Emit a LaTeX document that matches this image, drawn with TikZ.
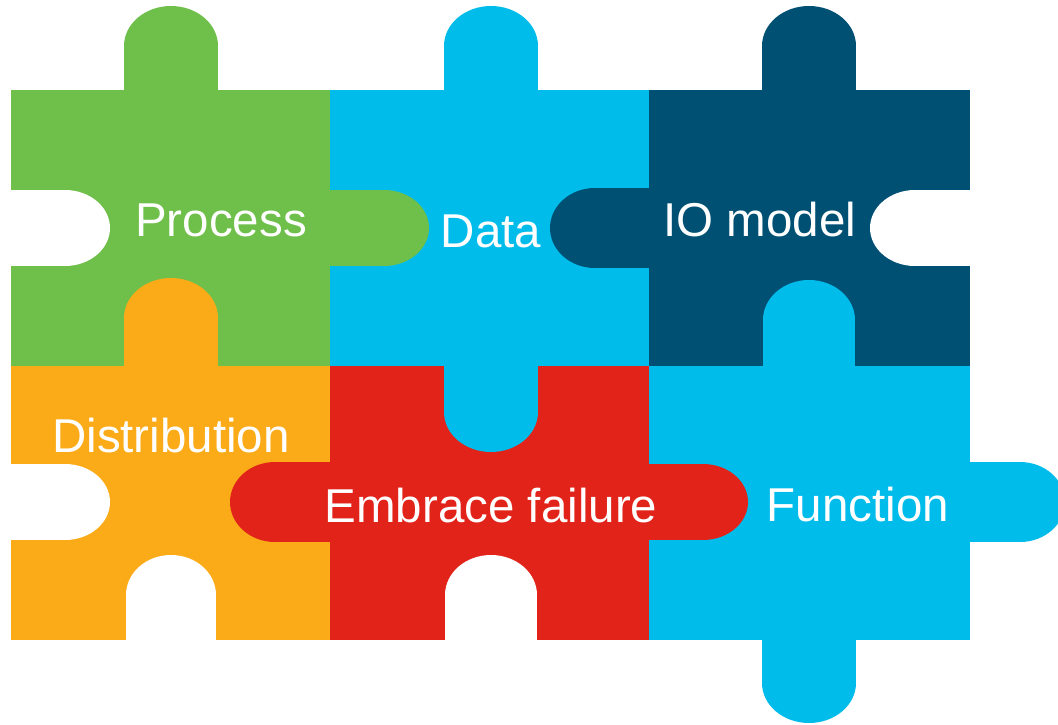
\documentclass[tikz,border=0pt]{standalone}
\usepackage{fontspec}
\setmainfont{Liberation Sans}
\definecolor{cgreen}{HTML}{6FBF4B}
\definecolor{ccyan}{HTML}{00BCEB}
\definecolor{cnavy}{HTML}{005073}
\definecolor{corange}{HTML}{FBAB18}
\definecolor{cred}{HTML}{E2231A}
% vertical tab: colour, centre x, base y, cap centre y, half width
\newcommand{\vtab}[5]{%
  \fill[#1] ({#2-#5},#3) rectangle ({#2+#5},#4);
  \fill[#1] (#2,#4) ellipse [x radius=#5pt, y radius=40pt];}
% horizontal tab: colour, centre y, base x, cap centre x, half height
\newcommand{\htab}[5]{%
  \fill[#1] (#3,{#2-#5}) rectangle (#4,{#2+#5});
  \fill[#1] (#4,#2) ellipse [x radius=45pt, y radius=#5pt];}
\tikzset{
  lbl/.style={text=white, anchor=base, inner sep=0pt, font=\fontsize{47.5}{56}\selectfont},
  hole/.style={fill=white}
}
\begin{document}
\begin{tikzpicture}[x=1pt,y=-1pt]
\useasboundingbox (0,0) rectangle (1058,725);
\fill[white] (0,0) rectangle (1058,725);
\clip (0,0) rectangle (1058,725);
% bodies
\fill[cgreen]  (11,90)   rectangle (330,366);
\fill[ccyan]   (330,90)  rectangle (649,366);
\fill[cnavy]   (649,90)  rectangle (970,366);
\fill[corange] (11,366)  rectangle (330,640);
\fill[cred]    (330,366) rectangle (649,640);
\fill[ccyan]   (649,366) rectangle (970,640);
% vertical tabs
\vtab{cgreen}{171}{92}{46}{47}
\vtab{ccyan}{491}{92}{46}{47}
\vtab{cnavy}{809}{92}{46}{47}
\vtab{corange}{171}{368}{318}{47}
\vtab{ccyan}{809}{368}{320}{46}
\vtab{ccyan}{491}{364}{412}{47}
\vtab{ccyan}{809}{638}{683}{47}
% horizontal tabs
\htab{cgreen}{228}{328}{384}{38}
\htab{cnavy}{228}{651}{595}{40}
\htab{cred}{502}{332}{275}{40}
\htab{cred}{502}{647}{703}{38}
\htab{ccyan}{502}{968}{1020}{40}
% white notches
\vtab{hole}{171}{645}{595}{45}
\vtab{hole}{491}{645}{595}{46}
\htab{hole}{228}{975}{915}{38}
\htab{hole}{228}{5}{65}{38}
\htab{hole}{502}{5}{65}{38}
% labels
\node[lbl] (process) at (221,236) {Process};
\node[lbl] (data) at (491,247) {Data};
\node[lbl] (io) at (760,236) {IO model};
\node[lbl] (dist) at (171,452) {Distribution};
\node[lbl] (fail) at (491,522) {Embrace failure};
\node[lbl] (func) at (858,521) {Function};
\end{tikzpicture}
\end{document}
